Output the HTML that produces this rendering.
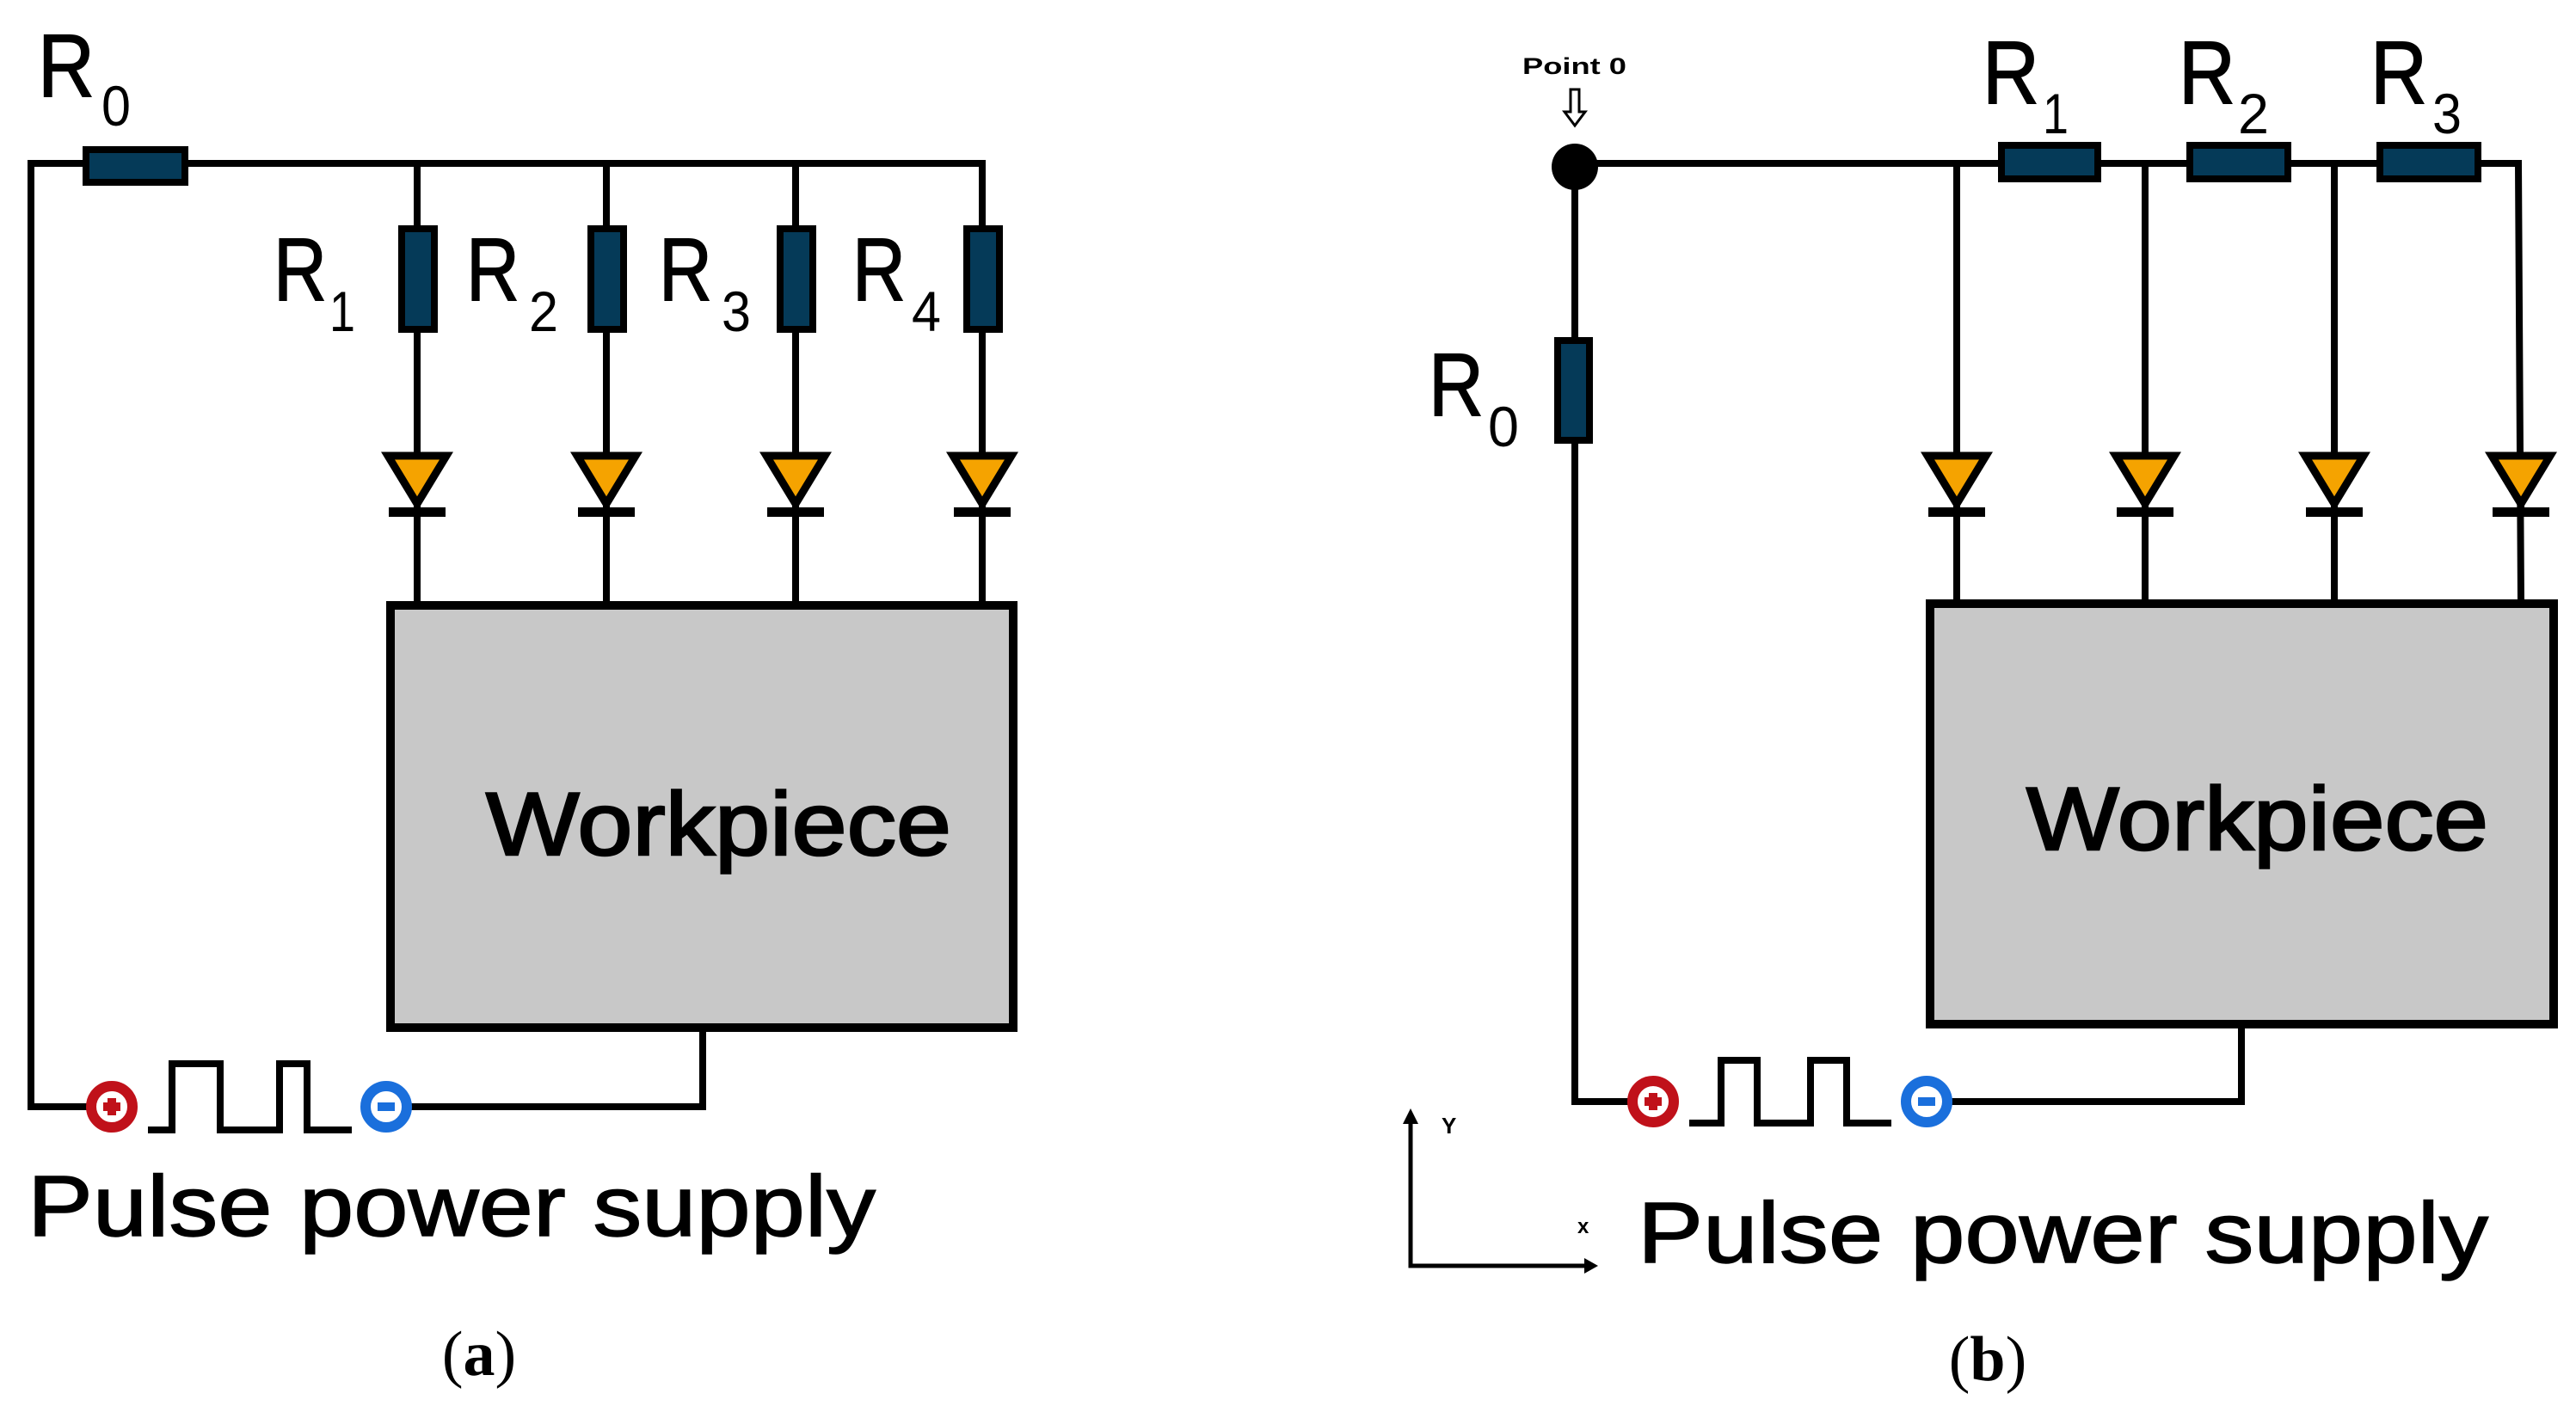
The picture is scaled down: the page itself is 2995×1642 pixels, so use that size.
<!DOCTYPE html>
<html><head><meta charset="utf-8"><style>
html,body{margin:0;padding:0;background:#fff;}
svg{display:block;}
text{font-family:"Liberation Sans",sans-serif;fill:#000;}
</style></head><body>
<svg width="2995" height="1642" viewBox="0 0 2995 1642" xmlns="http://www.w3.org/2000/svg">
<defs>
<g id="diode">
  <line x1="0" y1="-10" x2="0" y2="10" stroke="#000" stroke-width="8"/>
  <polygon points="-34,-60 34,-60 0,-4" fill="#f5a300" stroke="#000" stroke-width="9" stroke-linejoin="miter"/>
  <rect x="-33" y="0" width="66" height="11" fill="#000"/>
</g>
</defs>
<g stroke="#000" stroke-width="8" fill="none" stroke-linecap="square">
  <polyline points="1142,190 36,190 36,1287 100,1287"/>
  <line x1="485" y1="190" x2="485" y2="700"/>
  <line x1="705" y1="190" x2="705" y2="700"/>
  <line x1="925" y1="190" x2="925" y2="700"/>
  <line x1="1142" y1="190" x2="1142" y2="700"/>
  <polyline points="479,1287 817,1287 817,1199"/>
  <polyline points="176,1314 200,1314 200,1237 256,1237 256,1314 325,1314 325,1237 357,1237 357,1314 405,1314"/>
  <polyline points="1831,1281 1831,190 2928,190 2931,700"/>
  <line x1="2275" y1="190" x2="2275" y2="700"/>
  <line x1="2494" y1="190" x2="2494" y2="700"/>
  <line x1="2714" y1="190" x2="2714" y2="700"/>
  <polyline points="1831,1281 1892,1281"/>
  <polyline points="2270,1281 2606,1281 2606,1195"/>
  <polyline points="1968,1306 2001,1306 2001,1233 2043,1233 2043,1306 2105,1306 2105,1233 2147,1233 2147,1306 2195,1306"/>
</g>
<g fill="#053a58" stroke="#000" stroke-width="8">
  <rect x="100" y="174" width="115" height="38"/>
  <rect x="467" y="266" width="38" height="117"/>
  <rect x="687" y="266" width="38" height="117"/>
  <rect x="907" y="266" width="38" height="117"/>
  <rect x="1124" y="266" width="38" height="117"/>
  <rect x="2327" y="169" width="112" height="39"/>
  <rect x="2546" y="169" width="114" height="39"/>
  <rect x="2767" y="169" width="114" height="39"/>
  <rect x="1811" y="396" width="37" height="116"/>
</g>
<use href="#diode" x="485" y="590"/>
<use href="#diode" x="705" y="590"/>
<use href="#diode" x="925" y="590"/>
<use href="#diode" x="1142" y="590"/>
<use href="#diode" x="2275" y="590"/>
<use href="#diode" x="2494" y="590"/>
<use href="#diode" x="2714" y="590"/>
<use href="#diode" x="2931" y="590"/>
<rect x="454" y="704" width="724" height="491" fill="#c8c8c8" stroke="#000" stroke-width="10"/>
<rect x="2244" y="702" width="725" height="489" fill="#c8c8c8" stroke="#000" stroke-width="10"/>
<g stroke="#000" stroke-width="2.5">
<text x="565" y="994" font-size="104" textLength="541" lengthAdjust="spacingAndGlyphs">Workpiece</text>
<text x="2356" y="988" font-size="104" textLength="537" lengthAdjust="spacingAndGlyphs">Workpiece</text>
</g>
<g stroke-width="12" fill="#fff">
  <circle cx="130" cy="1287" r="24" stroke="#c0111a"/>
  <circle cx="449" cy="1287" r="24" stroke="#1a6fdc"/>
  <circle cx="1922" cy="1281" r="24" stroke="#c0111a"/>
  <circle cx="2240" cy="1281" r="24" stroke="#1a6fdc"/>
</g>
<g>
  <rect x="120" y="1282" width="20" height="10" fill="#c0111a"/><rect x="125" y="1277" width="10" height="20" fill="#c0111a"/>
  <rect x="439" y="1282" width="20" height="10" fill="#1a6fdc"/>
  <rect x="1912" y="1276" width="20" height="10" fill="#c0111a"/><rect x="1917" y="1271" width="10" height="20" fill="#c0111a"/>
  <rect x="2230" y="1276" width="20" height="10" fill="#1a6fdc"/>
</g>
<circle cx="1831" cy="194" r="27" fill="#000"/>
<text x="1770" y="86" font-size="27" font-weight="bold" textLength="121" lengthAdjust="spacingAndGlyphs">Point 0</text>
<polygon points="1826,104 1836,104 1836,130 1843,130 1831,146 1819,130 1826,130" fill="#fff" stroke="#000" stroke-width="3"/>
<g stroke="#000" stroke-width="5" fill="none">
  <polyline points="1640,1302 1640,1472 1845,1472"/>
</g>
<polygon points="1640,1289 1631,1307 1649,1307" fill="#000"/>
<polygon points="1858,1472 1842,1463 1842,1481" fill="#000"/>
<text x="1676" y="1318" font-size="26" font-weight="bold">Y</text>
<text x="1834" y="1434" font-size="24" font-weight="bold">x</text>
<g font-size="104" stroke="#000" stroke-width="1.5">
  <text x="44" y="112" textLength="66" lengthAdjust="spacingAndGlyphs">R</text>
  <text x="318" y="349" textLength="62" lengthAdjust="spacingAndGlyphs">R</text>
  <text x="542" y="349" textLength="62" lengthAdjust="spacingAndGlyphs">R</text>
  <text x="766" y="349" textLength="62" lengthAdjust="spacingAndGlyphs">R</text>
  <text x="991" y="349" textLength="62" lengthAdjust="spacingAndGlyphs">R</text>
  <text x="2305" y="120" textLength="66" lengthAdjust="spacingAndGlyphs">R</text>
  <text x="2533" y="120" textLength="66" lengthAdjust="spacingAndGlyphs">R</text>
  <text x="2756" y="120" textLength="66" lengthAdjust="spacingAndGlyphs">R</text>
  <text x="1661" y="483" textLength="64" lengthAdjust="spacingAndGlyphs">R</text>
</g>
<g font-size="66">
  <text x="118" y="146" textLength="34" lengthAdjust="spacingAndGlyphs">0</text>
  <text x="383" y="385" textLength="30" lengthAdjust="spacingAndGlyphs">1</text>
  <text x="615" y="385" textLength="34" lengthAdjust="spacingAndGlyphs">2</text>
  <text x="839" y="385" textLength="34" lengthAdjust="spacingAndGlyphs">3</text>
  <text x="1060" y="385" textLength="34" lengthAdjust="spacingAndGlyphs">4</text>
  <text x="2375" y="155" textLength="30" lengthAdjust="spacingAndGlyphs">1</text>
  <text x="2602" y="155" textLength="36" lengthAdjust="spacingAndGlyphs">2</text>
  <text x="2828" y="155" textLength="34" lengthAdjust="spacingAndGlyphs">3</text>
  <text x="1730" y="519" textLength="36" lengthAdjust="spacingAndGlyphs">0</text>
</g>
<g stroke="#000" stroke-width="1.5">
<text x="32" y="1437" font-size="100" textLength="986" lengthAdjust="spacingAndGlyphs">Pulse power supply</text>
<text x="1904" y="1468" font-size="100" textLength="989" lengthAdjust="spacingAndGlyphs">Pulse power supply</text>
</g>
<text x="557" y="1599" font-size="74" text-anchor="middle" style="font-family:'Liberation Serif',serif">(<tspan font-weight="bold">a</tspan>)</text>
<text x="2311" y="1605" font-size="74" text-anchor="middle" style="font-family:'Liberation Serif',serif">(<tspan font-weight="bold">b</tspan>)</text>
</svg>
</body></html>
